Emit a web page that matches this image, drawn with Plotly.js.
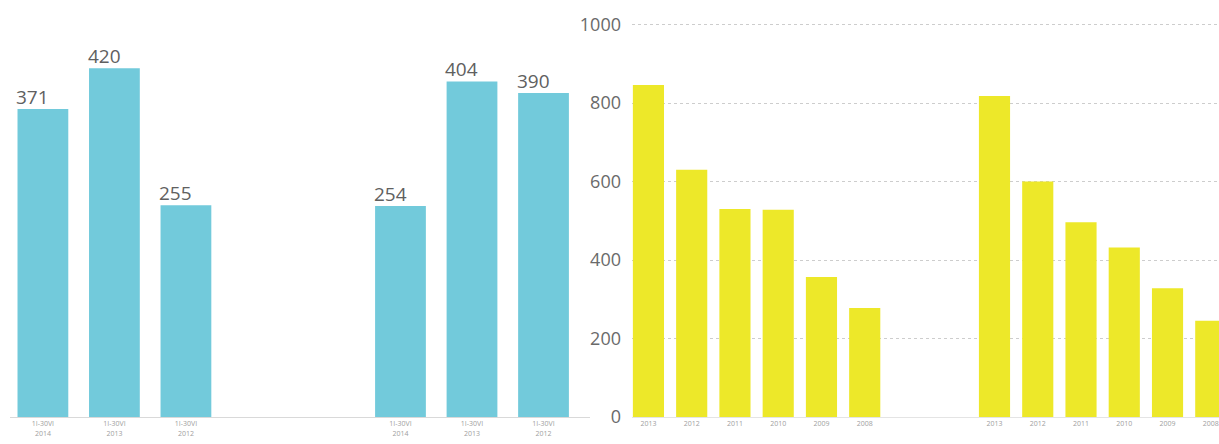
<!DOCTYPE html>
<html>
<head>
<meta charset="utf-8">
<script src="https://cdn.plot.ly/plotly-3.0.1.min.js"></script>
<style>html,body{margin:0;padding:0;background:#fff;}#chart{width:1219px;height:444px;}</style>
</head>
<body>
<div id="chart"></div>
<script>
// ---- data ----
const periodLabels = ['1I-30VI<br>2014', '1I-30VI<br>2013', '1I-30VI<br>2012'];
const periodGroupA = [371, 420, 255];
const periodGroupB = [254, 404, 390];

const yearLabels = ['2013', '2012', '2011', '2010', '2009', '2008'];
const yearGroupA = [846, 630, 530, 528, 357, 278];
const yearGroupB = [818, 600, 496, 432, 328, 245];

// ---- layout helpers ----
const leftGap = 5;   // index offset of second left group
const rightGap = 8;  // index offset of second right group
const barW = 0.72;

const leftX = periodLabels.map((_, i) => i).concat(periodLabels.map((_, i) => i + leftGap));
const leftY = periodGroupA.concat(periodGroupB);
const leftText = periodLabels.concat(periodLabels);

const rightX = yearLabels.map((_, i) => i).concat(yearLabels.map((_, i) => i + rightGap));
const rightY = yearGroupA.concat(yearGroupB);
const rightText = yearLabels.concat(yearLabels);

const W = 1219, H = 444;
const pxPerUnitR = 392.5 / 1000;
const yMaxR = 1006;
const yBottom = 1 - 417 / H;
const yTopR = 1 - (417 - yMaxR * pxPerUnitR) / H;
const yMaxL = (417 - (417 - yMaxR * pxPerUnitR)) / 0.8305;

const traces = [
  {type: 'bar', x: leftX, y: leftY, xaxis: 'x', yaxis: 'y',
   marker: {color: '#72CADB'}, width: 0.71, hoverinfo: 'x+y'},
  {type: 'bar', x: rightX, y: rightY, xaxis: 'x2', yaxis: 'y2',
   marker: {color: '#EDE829'}, width: barW, hoverinfo: 'x+y'}
];

const annotations = leftX.map((x, i) => ({
  x: x - 0.4, y: leftY[i], xref: 'x', yref: 'y',
  text: String(leftY[i]), showarrow: false,
  xanchor: 'left', yanchor: 'bottom', yshift: -3,
  font: {family: 'Open Sans, sans-serif', size: 19, color: '#606060'}
}));

const layout = {
  width: W, height: H,
  margin: {l: 0, r: 0, t: 0, b: 0, pad: 0},
  paper_bgcolor: '#fff', plot_bgcolor: '#fff',
  showlegend: false,
  font: {family: 'Open Sans, sans-serif', color: '#777'},
  xaxis: {
    domain: [10 / W, 590 / W], range: [-0.46, 7.65],
    tickmode: 'array', tickvals: leftX, ticktext: leftText,
    tickfont: {size: 7, color: '#a0a0a0'}, ticks: '', ticklen: 0,
    showgrid: false, zeroline: false, showline: true, linecolor: '#d9d9d9', linewidth: 1,
    fixedrange: true
  },
  yaxis: {
    domain: [yBottom, yTopR], range: [0, yMaxL],
    showticklabels: false, showgrid: false, zeroline: false, showline: false,
    fixedrange: true
  },
  xaxis2: {
    anchor: 'y2',
    domain: [632 / W, 1], range: [-0.38, 13.19],
    tickmode: 'array', tickvals: rightX, ticktext: rightText,
    tickfont: {size: 7, color: '#a0a0a0'}, ticks: '', ticklen: 0,
    showgrid: false, zeroline: false, showline: true, linecolor: '#e4e4e4', linewidth: 1,
    fixedrange: true
  },
  yaxis2: {
    anchor: 'x2',
    domain: [yBottom, yTopR], range: [0, yMaxR],
    tickmode: 'linear', tick0: 0, dtick: 200,
    tickfont: {size: 18, color: '#6a6a6a'}, ticks: '', ticklabelstandoff: 10,
    showgrid: true, gridcolor: '#cdcdcd', griddash: 'dot', gridwidth: 1,
    zeroline: false, showline: false, fixedrange: true
  },
  annotations: annotations,
  bargap: 0.28
};

Plotly.newPlot('chart', traces, layout, {displayModeBar: false, staticPlot: true});
</script>
</body>
</html>
